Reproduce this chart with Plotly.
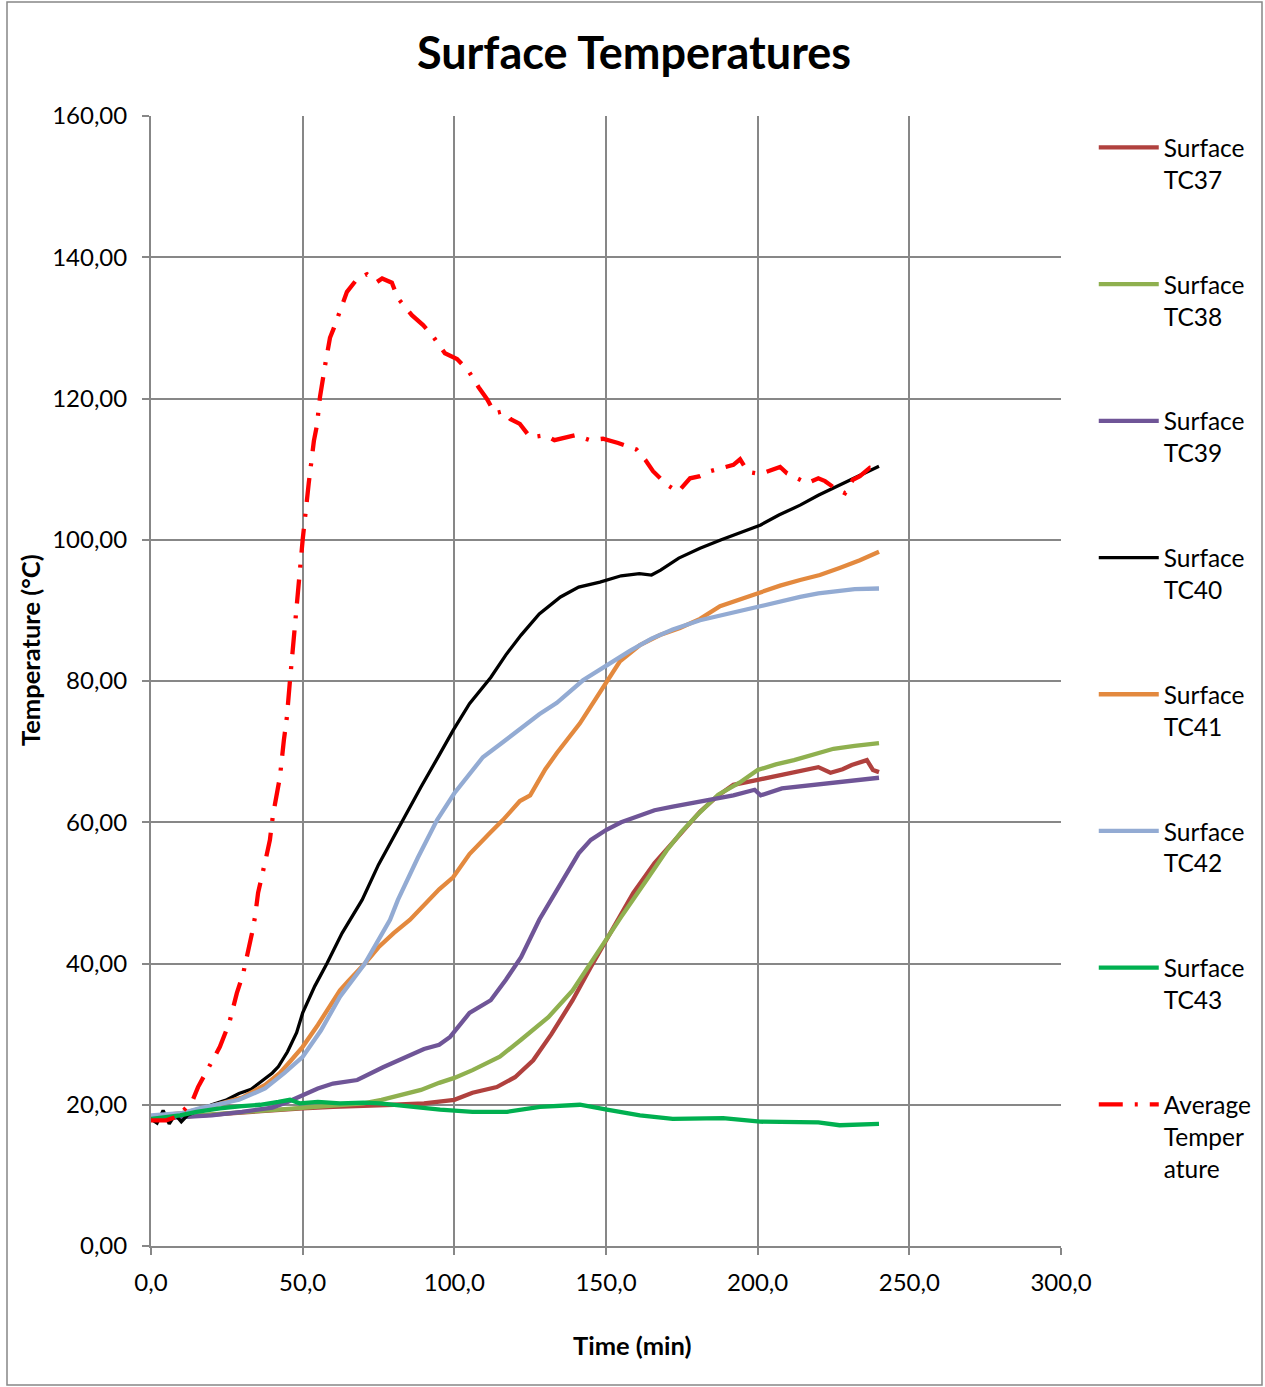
import plotly.graph_objects as go

# ---------------- data ----------------
t37 = [0, 10, 20, 30, 40, 50, 60, 70, 80, 90, 95, 100, 106, 114, 120, 126, 132, 139, 145, 152, 159, 166, 174,
       181, 187, 192, 200, 208, 215, 220, 224, 228, 231, 236, 238, 240]
v37 = [18.0, 18.3, 18.7, 19.0, 19.3, 19.5, 19.7, 19.8, 20.0, 20.2, 20.4, 20.7, 21.7, 22.5, 23.9, 26.3, 30.0, 34.8,
       39.5, 44.7, 50.0, 54.2, 58.2, 61.5, 63.8, 65.3, 66.0, 66.7, 67.3, 67.8, 67.0, 67.5, 68.1, 68.8, 67.4, 67.1]

t38 = [0, 10, 20, 30, 40, 50, 60, 70, 76, 82, 89, 95, 100, 106, 115, 122, 131, 139, 147, 155, 164, 170, 175,
       180, 187, 194, 200, 206, 212, 218, 225, 232, 240]
v38 = [18.0, 18.3, 18.6, 18.9, 19.2, 19.5, 19.8, 20.2, 20.7, 21.3, 22.1, 23.1, 23.8, 24.9, 26.8, 29.2, 32.4, 36.2,
       41.5, 46.6, 52.2, 56.0, 58.7, 61.0, 63.9, 65.6, 67.4, 68.2, 68.8, 69.5, 70.4, 70.8, 71.2]

t39 = [0, 10, 20, 30, 40, 45, 50, 55, 60, 68, 76.5, 85, 90, 95, 98.6, 105, 112, 117, 122, 128, 135, 141, 145, 150,
       155, 160, 166, 172, 178, 185, 192, 199, 201, 208, 215, 225, 232, 240]
v39 = [18.0, 18.2, 18.5, 19.0, 19.6, 20.4, 21.4, 22.3, 23.0, 23.5, 25.3, 26.9, 27.9, 28.5, 29.6, 33.0, 34.8, 37.7,
       40.9, 46.2, 51.4, 55.6, 57.5, 58.9, 60.0, 60.8, 61.7, 62.2, 62.7, 63.2, 63.8, 64.6, 63.8, 64.8, 65.1, 65.6,
       65.9, 66.3]

t40 = [0, 2, 4, 6, 8, 10, 12, 16, 20, 25, 29, 33, 37, 40, 42, 45, 48, 50, 54, 58, 63, 69.6, 75, 83, 89, 95, 99.6,
       105, 112, 117, 122, 128, 135, 141, 148, 155, 161, 165, 168, 174, 181, 188, 194, 201, 207, 214, 220, 227,
       234, 240]
v40 = [18.0, 17.4, 19.2, 17.3, 18.6, 17.6, 18.5, 19.3, 20.0, 20.7, 21.6, 22.2, 23.5, 24.5, 25.4, 27.5, 30.2, 33.0,
       36.8, 40.0, 44.3, 49.0, 54.0, 60.3, 65.0, 69.5, 73.0, 76.8, 80.5, 83.7, 86.5, 89.5, 91.9, 93.3, 94.0, 94.9,
       95.2, 95.0, 95.7, 97.4, 98.8, 100.0, 101.0, 102.1, 103.5, 104.9, 106.3, 107.7, 109.2, 110.4]

t41 = [0, 10, 20, 30, 37.6, 42.5, 46, 50, 55, 62.3, 65, 70.5, 75, 80, 85.4, 90, 95, 99.6, 105, 111.8, 116, 121.6,
       125, 130, 133.8, 141.4, 148, 154.6, 161.2, 167.8, 174.4, 181, 187.6, 194.2, 200.8, 207.4, 214, 220.5, 227,
       233.7, 240]
v41 = [18.3, 18.8, 19.8, 21.0, 22.8, 24.5, 26.2, 28.2, 31.3, 36.2, 37.5, 40.0, 42.3, 44.3, 46.2, 48.3, 50.5, 52.2,
       55.5, 58.5, 60.3, 63.0, 63.8, 67.5, 69.8, 74.0, 78.5, 82.8, 85.1, 86.5, 87.5, 88.8, 90.6, 91.6, 92.6, 93.5,
       94.3, 95.0, 96.0, 97.1, 98.3]

t42 = [0, 10, 16, 29, 37.6, 44, 50, 56, 62.3, 70.5, 78.8, 81.4, 88, 94.3, 100, 105, 109.4, 115, 122.6, 128,
       133.8, 142.4, 151.3, 158, 165, 172, 181, 190, 200, 207, 214, 220, 225, 232, 240]
v42 = [18.5, 18.8, 19.5, 20.7, 22.3, 24.5, 26.8, 30.5, 35.3, 40.0, 46.2, 49.0, 55.0, 60.3, 64.1, 66.7, 69.2, 71.0,
       73.5, 75.3, 76.9, 80.1, 82.5, 84.3, 86.0, 87.3, 88.6, 89.5, 90.5, 91.3, 91.9, 92.4, 92.7, 93.0, 93.1]

t43 = [0, 5, 9.6, 15, 22.7, 30, 36, 42, 45.8, 49, 55, 62.3, 70, 75.5, 85.4, 95.3, 106, 117.4, 128.2, 135, 141.4,
       150.3, 161.2, 172, 180, 188.6, 200.8, 210, 220, 227, 234, 240]
v43 = [18.0, 18.2, 18.5, 19.0, 19.5, 19.8, 20.0, 20.4, 20.7, 20.2, 20.4, 20.2, 20.3, 20.2, 19.7, 19.3, 19.0, 19.0,
       19.7, 19.8, 20.0, 19.3, 18.5, 18.0, 18.1, 18.1, 17.6, 17.6, 17.5, 17.1, 17.2, 17.3]

tavg = [0, 5, 8.6, 13.5, 15.5, 19.5, 22.7, 25.8, 28.3, 30.4, 31.7, 33.3, 34.3, 35.3, 37.9, 39.2, 40.2, 41.2, 42.5,
        43.8, 44.8, 45.8, 47, 48.5, 50, 52, 53.7, 54.7, 55.7, 57.4, 59, 60.3, 62, 64.6, 67.9, 71.2, 74.5, 76.2,
        79.4, 81.4, 86, 89.7, 93, 96.9, 100.9, 104.5, 108, 110.8, 113.4, 116, 118.4, 121.6, 125, 130, 133, 139.8,
        144.7, 149, 154, 160, 163, 165.5, 170, 173.8, 177.7, 181, 184.3, 188, 192, 194.2, 196.8, 200.8, 204.7,
        207.4, 209.7, 213, 216.3, 220, 222.2, 224.8, 228.8, 231.4, 233.7, 237, 240]
vavg = [17.8, 17.8, 18.3, 20.4, 22.5, 25.6, 28.2, 31.6, 35.8, 38.6, 40.9, 44.3, 46.6, 50.0, 54.9, 57.5, 61.0, 63.4,
        66.4, 71.6, 74.9, 80.0, 86.0, 93.0, 100.0, 108.0, 114.0, 116.2, 120.2, 124.7, 128.6, 130.0, 132.2, 135.1,
        136.9, 137.6, 136.5, 137.0, 136.4, 134.2, 131.8, 130.4, 128.8, 126.4, 125.6, 124.0, 121.6, 119.9, 117.9,
        118.2, 117.1, 116.4, 114.5, 114.8, 114.1, 114.8, 114.1, 114.3, 113.7, 112.8, 111.3, 109.7, 107.8, 106.8,
        108.7, 109.0, 109.7, 110.2, 110.6, 111.4, 109.6, 109.3, 109.9, 110.3, 109.4, 108.7, 108.0, 108.7, 108.3,
        107.5, 106.6, 108.5, 109.0, 110.2, 110.0]

series = [
    ("Surface<br>TC37", t37, v37, "#B0413E", 4.3, None),
    ("Surface<br>TC38", t38, v38, "#8FB04F", 4.3, None),
    ("Surface<br>TC39", t39, v39, "#6F5597", 4.3, None),
    ("Surface<br>TC40", t40, v40, "#000000", 3.3, None),
    ("Surface<br>TC41", t41, v41, "#E3893E", 4.3, None),
    ("Surface<br>TC42", t42, v42, "#93ABD3", 4.3, None),
    ("Surface<br>TC43", t43, v43, "#00B050", 4.3, None),
    ("Average<br>Temper<br>ature", tavg, vavg, "#FF0000", 4.3, "24px,12px,3px,12px"),
]

x_ticks = [0, 50, 100, 150, 200, 250, 300]
y_ticks = [0, 20, 40, 60, 80, 100, 120, 140, 160]

FONT = "Lato"
GRID = "#878787"

fig = go.Figure()
for i, (name, tx, vy, color, w, dash) in enumerate(series):
    line = dict(color=color, width=w)
    if dash:
        line["dash"] = dash
    fig.add_trace(go.Scatter(x=tx, y=vy, mode="lines", name=name, line=line,
                             legendgroup=f"g{i}"))

fig.update_layout(
    width=1265, height=1387,
    margin=dict(l=151, r=204, t=116, b=141, autoexpand=False),
    paper_bgcolor="white", plot_bgcolor="white",
    separators=", ",
    font=dict(family=FONT, size=24, color="#000000"),
    title=dict(text="<b>Surface Temperatures</b>", x=634 / 1265, xanchor="center", xref="container",
               y=1 - 53 / 1387, yanchor="middle", font=dict(family=FONT, size=45, color="#000000")),
    showlegend=True,
    legend=dict(x=1.036, y=0.992, xanchor="left", yanchor="top", traceorder="grouped",
                tracegroupgap=70, valign="top", font=dict(family=FONT, size=24.5, color="#000000"),
                bgcolor="rgba(0,0,0,0)", itemwidth=60),
)

fig.update_xaxes(range=[0, 300], tickvals=x_ticks, tickformat=".1f", showgrid=True, gridcolor=GRID,
                 gridwidth=2, showline=True, linecolor=GRID, linewidth=2, ticks="outside", ticklen=7,
                 tickcolor=GRID, tickwidth=2, zeroline=False, ticklabelstandoff=7, automargin=False,
                 tickfont=dict(family=FONT, size=24, color="#000000"), fixedrange=True)
fig.update_yaxes(range=[0, 160], tickvals=y_ticks, tickformat=".2f", showgrid=True, gridcolor=GRID,
                 gridwidth=2, showline=True, linecolor=GRID, linewidth=2, ticks="outside", ticklen=7,
                 tickcolor=GRID, tickwidth=2, zeroline=False, ticklabelstandoff=10, automargin=False,
                 tickfont=dict(family=FONT, size=24, color="#000000"), fixedrange=True)

# axis titles
fig.add_annotation(text="<b>Time (min)</b>", xref="paper", yref="paper", x=(632 - 151) / 910,
                   y=(1246 - 1345) / 1130, xanchor="center", yanchor="middle", showarrow=False,
                   font=dict(family=FONT, size=25.5, color="#000000"))
fig.add_annotation(text="<b>Temperature (°C)</b>", xref="paper", yref="paper", x=(30 - 151) / 910,
                   y=(1246 - 650) / 1130, xanchor="center", yanchor="middle", showarrow=False, textangle=-90,
                   font=dict(family=FONT, size=25.5, color="#000000"))

# chart-area border
fig.add_shape(type="rect", xref="paper", yref="paper",
              x0=(7 - 151) / 910, x1=(1262 - 151) / 910, y0=(1246 - 1385) / 1130, y1=(1246 - 2) / 1130,
              line=dict(color=GRID, width=1.5), fillcolor="rgba(0,0,0,0)", layer="below")

fig.write_html("out.html")
